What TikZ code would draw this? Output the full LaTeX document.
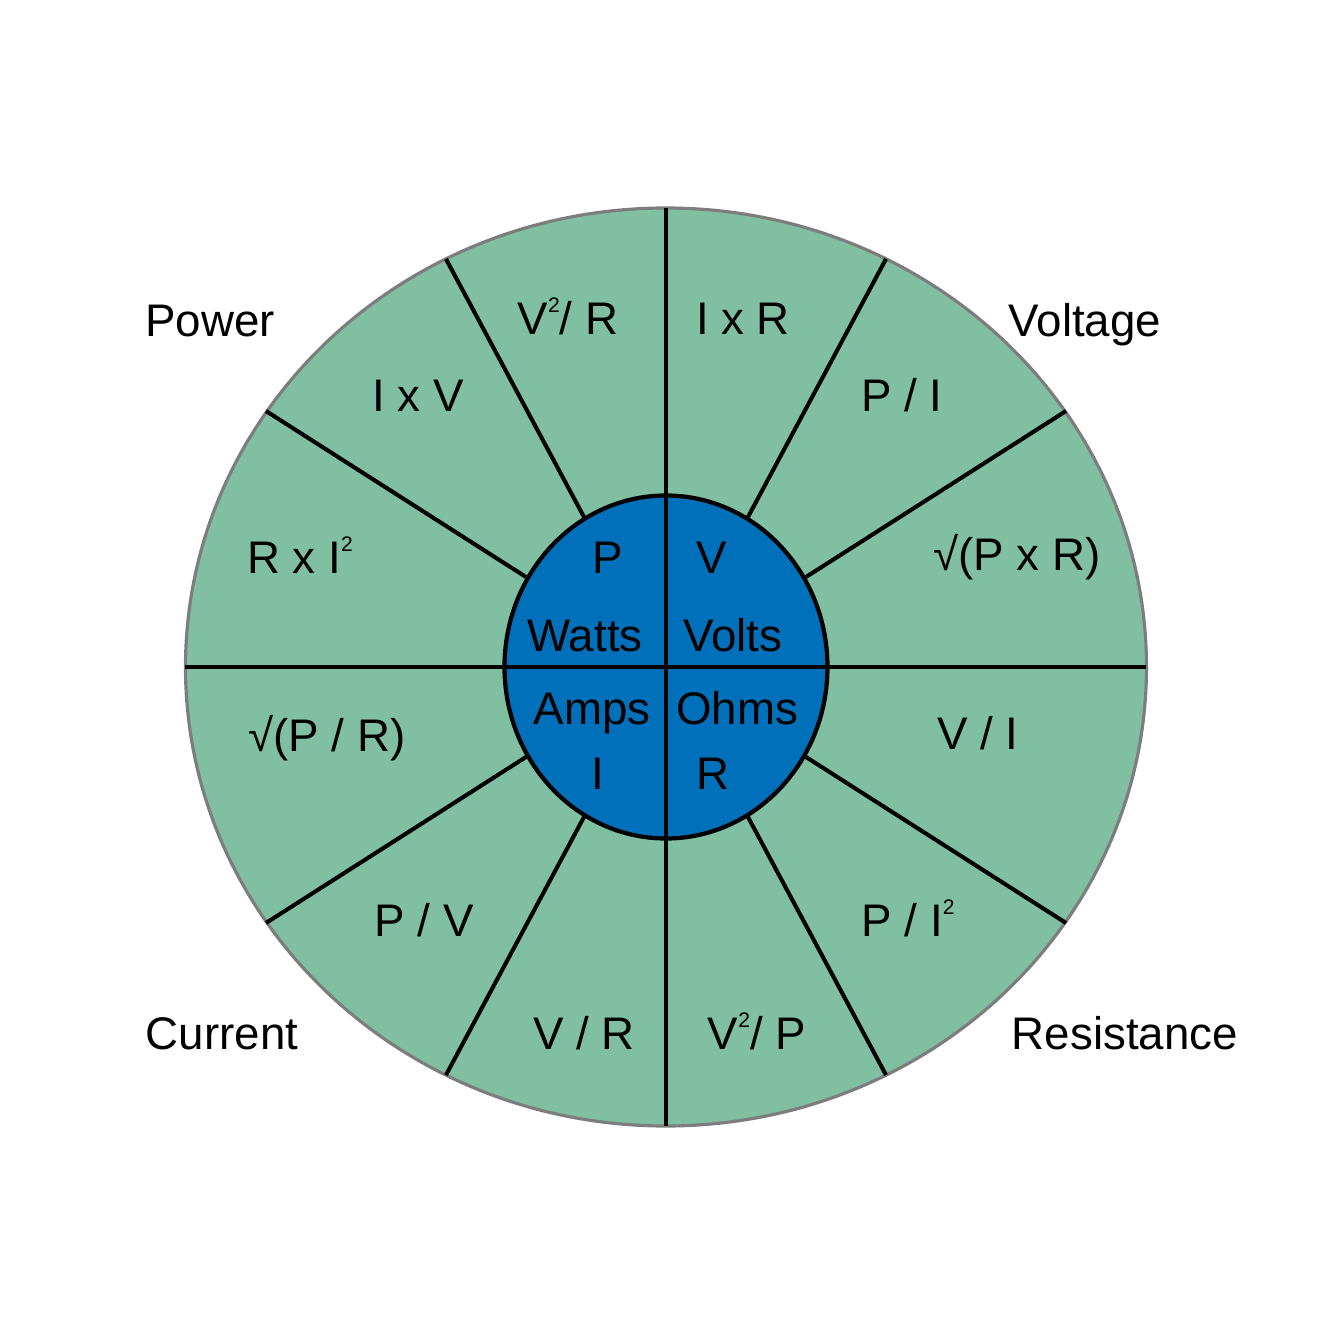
\documentclass[tikz,border=0pt]{standalone}
\usepackage{fontspec}
\setmainfont{Liberation Sans}
\usetikzlibrary{positioning}
\definecolor{wheelgreen}{RGB}{128,191,161}
\definecolor{hubblue}{RGB}{0,112,187}
\definecolor{rimgray}{RGB}{125,125,125}
% small squared mark, top level with the capitals
\newcommand{\sqd}{\raisebox{0.22cm}{\fontsize{6}{6}\selectfont 2}}
\tikzset{
  rim/.style    = {fill=wheelgreen, draw=rimgray, line width=0.9pt},
  hub/.style    = {fill=hubblue, draw=black, line width=1.2pt},
  spoke/.style  = {draw=black, line width=1.15pt},
  % every label: cap height fixed so the node centre sits mid-cap
  lbl/.style    = {inner sep=0pt, text height=0.33cm, text depth=0pt,
                   font=\fontsize{13}{15}\selectfont},
  qty/.style    = {lbl},   % outer quantity names
  frm/.style    = {lbl},   % formulas in the segments
  unit/.style   = {lbl},   % symbol / unit in the hub
}

\begin{document}
\begin{tikzpicture}
  \useasboundingbox (-6.66,-6.66) rectangle (6.67,6.67);

  \draw[rim] (0,0) ellipse [x radius=4.805, y radius=4.59];

  % slanted spokes, hub edge to rim
  \foreach \sx/\sy in {1/1,-1/1,1/-1,-1/-1} {
    \coordinate (in a) at (\sx*0.82,\sy*1.50);
    \coordinate (out a) at (\sx*2.20,\sy*4.08);
    \coordinate (in b) at (\sx*1.40,\sy*0.90);
    \coordinate (out b) at (\sx*4.00,\sy*2.56);
    \draw[spoke] (in a) -- (out a);
    \draw[spoke] (in b) -- (out b);
  }

  \draw[hub] (0,0) ellipse [x radius=1.615, y radius=1.715];

  \coordinate (top) at (0,4.59);    \coordinate (bot) at (0,-4.59);
  \coordinate (lft) at (-4.805,0);  \coordinate (rgt) at (4.805,0);
  \draw[spoke] (top) -- (bot);
  \draw[spoke] (lft) -- (rgt);

  \node[qty] (power)   at (-4.56, 3.47) {Power};
  \node[qty] (voltage) at ( 4.19, 3.47) {Voltage};
  \node[qty] (current) at (-4.44,-3.66) {Current};
  \node[qty] (resist)  at ( 4.59,-3.66) {Resistance};

  \node[frm] (f1)  at (-0.98, 3.49) {V\sqd/ R};
  \node[frm] (f2)  at ( 0.77, 3.49) {I x R};
  \node[frm] (f3)  at (-2.48, 2.72) {I x V};
  \node[frm] (f4)  at ( 2.36, 2.72) {P / I};
  \node[frm] (f5)  at (-3.66, 1.10) {R x I\sqd};
  \node[frm] (f6)  at ( 3.51, 1.13) {√(P x R)};
  \node[frm] (f7)  at (-3.39,-0.68) {√(P / R)};
  \node[frm] (f8)  at ( 3.12,-0.66) {V / I};
  \node[frm] (f9)  at (-2.42,-2.53) {P / V};
  \node[frm] (f10) at ( 2.42,-2.53) {P / I\sqd};
  \node[frm] (f11) at (-0.82,-3.66) {V / R};
  \node[frm] (f12) at ( 0.91,-3.66) {V\sqd/ P};

  \node[unit] (sp) at (-0.58, 1.10) {P};
  \node[unit] (up) at (-0.81, 0.32) {Watts};
  \node[unit] (sv) at ( 0.46, 1.10) {V};
  \node[unit] (uv) at ( 0.67, 0.32) {Volts};
  \node[unit] (ui) at (-0.74,-0.41) {Amps};
  \node[unit] (si) at (-0.68,-1.06) {I};
  \node[unit] (ur) at ( 0.71,-0.41) {Ohms};
  \node[unit] (sr) at ( 0.47,-1.06) {R};
\end{tikzpicture}
\end{document}
